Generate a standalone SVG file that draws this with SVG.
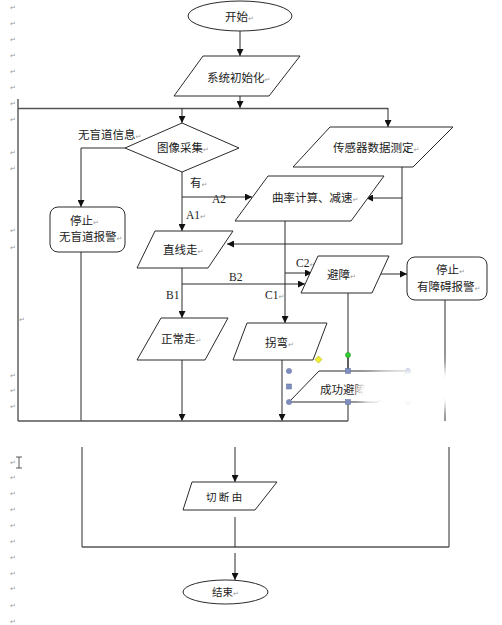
<svg xmlns="http://www.w3.org/2000/svg" width="502" height="625" viewBox="0 0 502 625">
<style>
.shape{fill:#fff;stroke:#2a2a2a;stroke-width:1}
.ln{fill:none;stroke:#2a2a2a;stroke-width:1}
.ln2{fill:none;stroke:#555;stroke-width:1.4}
.t{font-family:"Noto Sans CJK SC","Noto Sans",sans-serif;font-size:11.5px;fill:#222}
.lab{font-family:"Liberation Serif",serif;font-size:11.5px;fill:#222}
.pm{font-family:"DejaVu Sans",sans-serif;font-size:7px;fill:#999}
.h{fill:#7f8fc0;stroke:#5a6a9a;stroke-width:0.5}
</style>
<defs>
<marker id="ah" viewBox="0 0 8 8" refX="8" refY="4" markerWidth="7" markerHeight="7" markerUnits="userSpaceOnUse" orient="auto">
<path d="M0,0 L8,4 L0,8 z" fill="#111"/>
</marker>
<filter id="blur" x="-50%" y="-50%" width="200%" height="200%"><feGaussianBlur stdDeviation="6"/></filter>
<filter id="blur2" x="-50%" y="-50%" width="200%" height="200%"><feGaussianBlur stdDeviation="3"/></filter>
</defs>
<rect width="502" height="625" fill="#fff"/>

<g id="margin-marks" class="pm">
<text x="10" y="10">↵</text><text x="10" y="26">↵</text><text x="10" y="42">↵</text><text x="10" y="58">↵</text>
<text x="10" y="74">↵</text><text x="10" y="90">↵</text><text x="10" y="106">↵</text><text x="10" y="122">↵</text>
<text x="10" y="155">↵</text><text x="10" y="171">↵</text><text x="10" y="233">↵</text><text x="10" y="250">↵</text>
<text x="19" y="322">↵</text><text x="10" y="378">↵</text><text x="10" y="393">↵</text><text x="10" y="409">↵</text>
<text x="10" y="465">↵</text><text x="10" y="480">↵</text><text x="10" y="496">↵</text><text x="10" y="512">↵</text>
<text x="10" y="528">↵</text><text x="10" y="544">↵</text><text x="10" y="560">↵</text><text x="10" y="576">↵</text>
<text x="10" y="591">↵</text><text x="10" y="608">↵</text><text x="10" y="624">↵</text>
</g>
<path id="cursor" d="M16,457 h6 M19,457 v11 M16,468 h6" stroke="#333" stroke-width="0.8" fill="none"/>

<g id="connectors">
<line class="ln" x1="240" y1="31" x2="240" y2="56" marker-end="url(#ah)"/>
<line class="ln" x1="240" y1="96" x2="240" y2="108" marker-end="url(#ah)"/>
<line class="ln2" x1="18" y1="108.5" x2="388" y2="108.5"/>
<line class="ln2" x1="18" y1="99" x2="18" y2="421"/>
<line class="ln" x1="182" y1="108" x2="182" y2="123" marker-end="url(#ah)"/>
<line class="ln" x1="388" y1="108" x2="388" y2="127" marker-end="url(#ah)"/>
<polyline class="ln" points="125,148 81,148 81,207" marker-end="url(#ah)"/>
<line class="ln" x1="81" y1="252" x2="81" y2="421"/>
<line class="ln" x1="182" y1="172" x2="182" y2="231" marker-end="url(#ah)"/>
<line class="ln" x1="182" y1="197" x2="252" y2="197" marker-end="url(#ah)"/>
<line class="ln" x1="402" y1="167" x2="402" y2="244"/>
<line class="ln" x1="402" y1="198" x2="366" y2="198" marker-end="url(#ah)"/>
<line class="ln" x1="402" y1="244" x2="227" y2="244" marker-end="url(#ah)"/>
<line class="ln" x1="182" y1="268" x2="182" y2="318" marker-end="url(#ah)"/>
<line class="ln" x1="182" y1="284" x2="305" y2="284" marker-end="url(#ah)"/>
<line class="ln" x1="285" y1="221" x2="285" y2="323" marker-end="url(#ah)"/>
<line class="ln" x1="285" y1="273" x2="312" y2="273" marker-end="url(#ah)"/>
<line class="ln" x1="381" y1="274" x2="407" y2="274" marker-end="url(#ah)"/>
<line class="ln" x1="348" y1="293" x2="348" y2="371"/>
<line class="ln" x1="182" y1="360" x2="182" y2="421" marker-end="url(#ah)"/>
<line class="ln" x1="282" y1="360" x2="282" y2="421" marker-end="url(#ah)"/>
<line class="ln" x1="348" y1="402" x2="348" y2="421"/>
<line class="ln" x1="445" y1="300" x2="445" y2="421"/>
<line class="ln2" x1="18" y1="421" x2="348" y2="421"/>
<line class="ln" x1="82" y1="447" x2="82" y2="547"/>
<line class="ln" x1="449" y1="447" x2="449" y2="547"/>
<line class="ln2" x1="82" y1="547" x2="449" y2="547"/>
<line class="ln" x1="235" y1="447" x2="235" y2="482" marker-end="url(#ah)"/>
<line class="ln" x1="235" y1="517" x2="235" y2="547"/>
<line class="ln" x1="235" y1="553" x2="235" y2="580" marker-end="url(#ah)"/>
</g>

<g id="start"><ellipse class="shape" cx="240" cy="16" rx="52" ry="15"/><text class="t" x="225" y="21">开始<tspan class="pm">↵</tspan></text></g>
<g id="init"><polygon class="shape" points="203,56 300,56 269,96 174,96"/><text class="t" x="207" y="82">系统初始化<tspan class="pm">↵</tspan></text></g>
<g id="image"><polygon class="shape" points="182,123 239,148 182,172 125,148"/><text class="t" x="157" y="152">图像采集<tspan class="pm">↵</tspan></text></g>
<g id="label-noblind"><text class="t" x="78" y="139">无盲道信息<tspan class="pm">↵</tspan></text></g>
<g id="sensor"><polygon class="shape" points="330,127 453,127 413,167 293,167"/><text class="t" x="333" y="152">传感器数据测定<tspan class="pm">↵</tspan></text></g>
<g id="labels-ab">
<text class="t" x="190" y="187">有<tspan class="pm">↵</tspan></text>
<text class="lab" x="186" y="219">A1<tspan class="pm">↵</tspan></text>
<text class="lab" x="212" y="203">A2</text>
<text class="lab" x="229" y="281">B2</text>
<text class="lab" x="166" y="299">B1</text>
<text class="lab" x="265" y="299">C1<tspan class="pm">↵</tspan></text>
<text class="lab" x="296" y="267">C2<tspan class="pm">↵</tspan></text>
</g>
<g id="curve"><polygon class="shape" points="268,176 384,176 351,221 235,221"/><text class="t" x="272" y="202">曲率计算、减速<tspan class="pm">↵</tspan></text></g>
<g id="stop1"><rect class="shape" x="50" y="207" width="75" height="45" rx="8"/><text class="t" x="70" y="225">停止<tspan class="pm">↵</tspan></text><text class="t" x="59" y="241">无盲道报警<tspan class="pm">↵</tspan></text></g>
<g id="straight"><polygon class="shape" points="155,231 233,231 208,268 137,268"/><text class="t" x="163" y="254">直线走<tspan class="pm">↵</tspan></text></g>
<g id="avoid"><polygon class="shape" points="318,256 389,256 372,293 301,293"/><text class="t" x="327" y="279">避障<tspan class="pm">↵</tspan></text></g>
<g id="stop2"><rect class="shape" x="407" y="257" width="80" height="43" rx="8"/><text class="t" x="436" y="274">停止<tspan class="pm">↵</tspan></text><text class="t" x="417" y="291">有障碍报警<tspan class="pm">↵</tspan></text></g>
<g id="normal"><polygon class="shape" points="161,318 228,318 205,360 137,360"/><text class="t" x="161" y="343">正常走<tspan class="pm">↵</tspan></text></g>
<g id="turn"><polygon class="shape" points="247,323 327,323 313,360 233,360"/><text class="t" x="265" y="347">拐弯<tspan class="pm">↵</tspan></text></g>
<g id="success"><polygon class="shape" points="319,371 408,371 378,402 289,402"/><text class="t" x="320" y="394">成功避障</text>
<line x1="348" y1="355" x2="348" y2="371" stroke="#2a2a2a" stroke-width="1"/>
<circle cx="348" cy="355" r="2.6" fill="#3c3" stroke="#292" stroke-width="0.5"/>
<rect x="316" y="357" width="5" height="5" fill="#ee3" stroke="#aa0" stroke-width="0.5" transform="rotate(45 318.5 359.5)"/>
<circle class="h" cx="289" cy="371" r="2.6"/><circle class="h" cx="408" cy="371" r="2.6"/>
<circle class="h" cx="289" cy="402" r="2.6"/><circle class="h" cx="408" cy="402" r="2.6"/>
<rect class="h" x="345.5" y="368.5" width="5" height="5"/><rect class="h" x="345.5" y="399.5" width="5" height="5"/>
<rect class="h" x="286.5" y="384" width="5" height="5"/>
</g>
<g id="cut"><polygon class="shape" points="192,482 277,482 255,510 183,510"/><text class="t" x="206" y="501" style="font-size:10.5px">切 断 由</text></g>
<g id="end"><ellipse class="shape" cx="225.5" cy="592" rx="42.5" ry="12"/><text class="t" x="212" y="596" style="font-size:10.5px">结束<tspan class="pm">↵</tspan></text></g>

<g id="smudges" fill="#fff">
<ellipse cx="425" cy="388" rx="62" ry="22" filter="url(#blur)"/>
<ellipse cx="392" cy="392" rx="32" ry="14" filter="url(#blur)"/>
<ellipse cx="370" cy="391" rx="11" ry="10" filter="url(#blur2)"/>
<ellipse cx="420" cy="595" rx="72" ry="24" filter="url(#blur)"/>
</g>
</svg>
